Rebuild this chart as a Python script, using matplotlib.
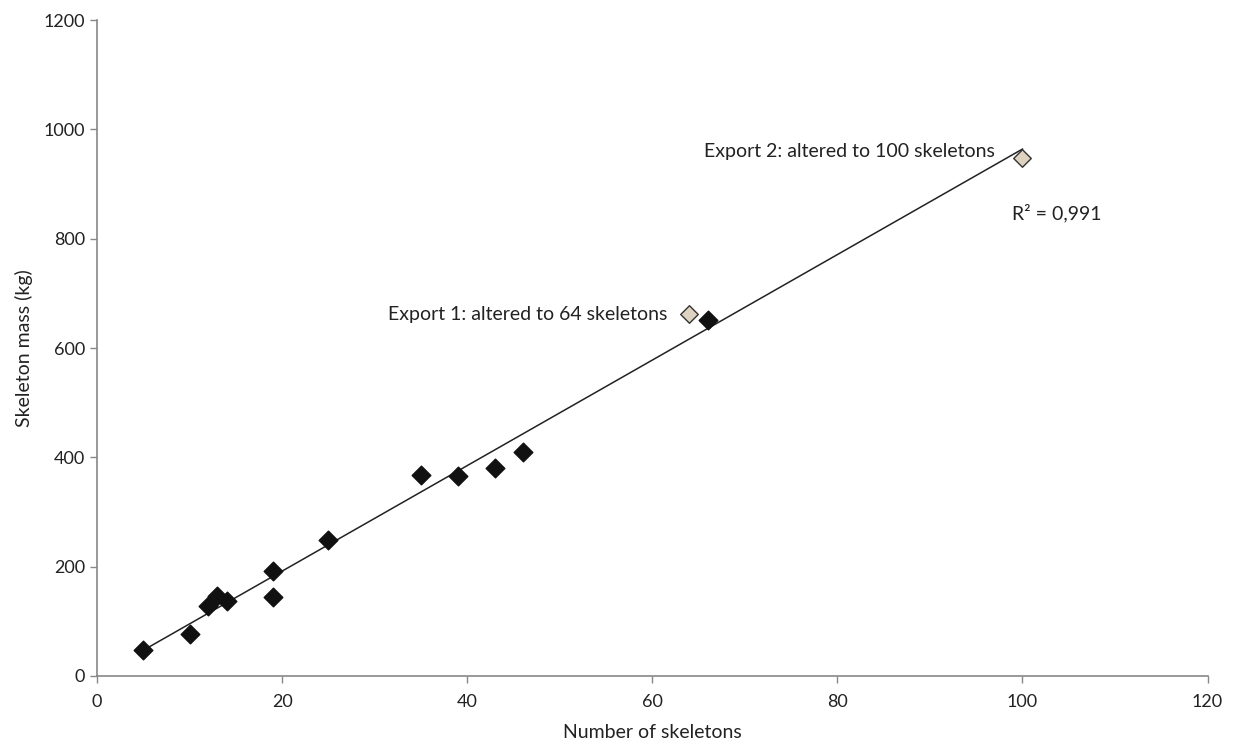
import numpy as np
import matplotlib
matplotlib.use("Agg")
import matplotlib.pyplot as plt

plt.rcParams['font.family'] = ['Lato', 'DejaVu Sans']

skeletons = [5, 10, 12, 13, 14, 19, 19, 25, 35, 39, 43, 46, 66]
mass = [48, 77, 128, 146, 137, 193, 144, 249, 367, 365, 381, 409, 651]
export_skeletons = [64, 100]
export_mass = [662, 948]
annotations = ["Export 1: altered to 64 skeletons", "Export 2: altered to 100 skeletons"]
r2_label = "R² = 0,991"

fig = plt.figure(figsize=(12.36, 7.44), dpi=100)
ax = fig.add_axes([0.0785, 0.0914, 0.8985, 0.8816])

all_x = np.array(skeletons + export_skeletons, dtype=float)
all_y = np.array(mass + export_mass, dtype=float)
slope, intercept = np.polyfit(all_x, all_y, 1)
xl = np.array([all_x.min(), all_x.max()])
ax.plot(xl, slope * xl + intercept, color='#222222', lw=1.1, zorder=2)

ax.scatter(skeletons, mass, marker='D', s=90, color='#111111', zorder=3)
ax.scatter(export_skeletons, export_mass, marker='D', s=80, facecolor='#ddd3c0',
           edgecolor='#333333', linewidth=1.0, zorder=3)

ax.text(61.6, 662, annotations[0], ha='right', va='center', fontsize=14, color='#222222')
ax.text(97.0, 960, annotations[1], ha='right', va='center', fontsize=14, color='#222222')
ax.text(98.9, 847, r2_label, ha='left', va='center', fontsize=14, color='#222222')

ax.set_xlim(0, 120)
ax.set_ylim(0, 1200)
ax.set_xticks(range(0, 121, 20))
ax.set_yticks(range(0, 1201, 200))
for s in ['top', 'right']:
    ax.spines[s].set_visible(False)
for s in ['left', 'bottom']:
    ax.spines[s].set_color('#888888')
    ax.spines[s].set_linewidth(1.2)
ax.tick_params(axis='both', colors='#888888', length=5, width=1, labelsize=13, labelcolor='#222222')
ax.tick_params(axis='x', pad=8)
ax.set_xlabel("Number of skeletons", fontsize=14, color='#222222', labelpad=10)
ax.set_ylabel("Skeleton mass (kg)", fontsize=14, color='#222222', labelpad=8)

fig.savefig("out.png", dpi=100)
